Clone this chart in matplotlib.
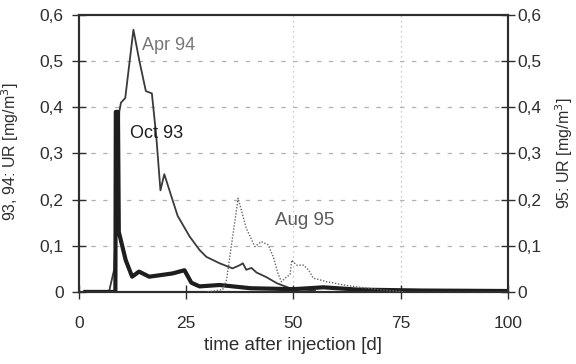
import matplotlib
matplotlib.use("Agg")
import matplotlib.pyplot as plt
from matplotlib.ticker import FixedLocator, FuncFormatter

plt.rcParams['font.family'] = ['Liberation Sans', 'DejaVu Sans']

# Oct 93 (thick line, left axis)
oct93_t = [1.5, 8.5, 8.6, 9.1, 9.3, 10.9, 12.4, 14.0, 16.4, 21.8, 24.6, 26.2, 28.1,
           32.8, 40.0, 50.0, 57.0, 65.0, 80.0, 100.0]
oct93_v = [0.0, 0.0, 0.39, 0.39, 0.13, 0.069, 0.033, 0.044, 0.033, 0.040, 0.047, 0.020, 0.012,
           0.015, 0.008, 0.006, 0.010, 0.005, 0.003, 0.002]

# Apr 94 (thin line, left axis)
apr94_t = [1.5, 7.0, 8.2, 8.9, 9.4, 9.8, 10.8, 12.7, 14.1, 15.6, 17.0, 18.0, 19.0, 19.9,
           21.1, 23.0, 25.8, 28.1, 29.7, 32.8, 34.7, 35.8, 37.5, 38.2, 39.0, 40.2, 41.4,
           43.7, 46.1, 49.2, 55.0]
apr94_v = [0.0, 0.0, 0.048, 0.20, 0.39, 0.41, 0.42, 0.568, 0.50, 0.435, 0.43, 0.34, 0.22, 0.255,
           0.22, 0.165, 0.12, 0.091, 0.076, 0.062, 0.055, 0.051, 0.058, 0.062, 0.048, 0.052, 0.042,
           0.032, 0.019, 0.008, 0.003]

# Aug 95 (dotted line, right axis)
aug95_t = [30.0, 33.5, 34.4, 37.1, 39.0, 41.0, 42.5, 44.1, 45.3, 46.4, 47.2, 48.4, 49.2, 49.6,
           50.7, 52.3, 53.5, 54.6, 57.8, 61.7, 65.6, 70.0, 76.0]
aug95_v = [0.0, 0.005, 0.026, 0.203, 0.138, 0.098, 0.109, 0.102, 0.076, 0.040, 0.022, 0.033,
           0.037, 0.069, 0.058, 0.058, 0.048, 0.030, 0.022, 0.015, 0.010, 0.005, 0.0]

y_ticks = [0.0, 0.1, 0.2, 0.3, 0.4, 0.5, 0.6]
x_ticks = [0, 25, 50, 75, 100]

ink = '#2e2e2e'
fig = plt.figure(figsize=(5.76, 3.64), dpi=100)
ax = fig.add_axes([0.137, 0.198, 0.745, 0.761])
ax2 = ax.twinx()

ax.set_xlim(0, 100)
ax.set_ylim(0, 0.6)
ax2.set_ylim(0, 0.6)

# grid
for y in y_ticks[1:-1]:
    ax.axhline(y, color='#b0b0b0', lw=0.9, ls=(0, (3.5, 6)), zorder=0)
for x in [50, 75]:
    ax.axvline(x, color='#b8b8b8', lw=0.9, ls=(0, (1, 3)), zorder=0)

ax.plot(apr94_t, apr94_v, color='#3a3a3a', lw=1.3, zorder=3)
ax.plot(oct93_t, oct93_v, color='#1e1e1e', lw=3.0, zorder=4, solid_joinstyle='round')
ax2.plot(aug95_t, aug95_v, color='#666666', lw=1.0, ls=(0, (1, 1.2)), zorder=3)

ax.text(14.8, 0.533, 'Apr 94', fontsize=13, color='#777777', va='center', ha='left')
ax.text(11.9, 0.344, 'Oct 93', fontsize=13, color='#1e1e1e', va='center', ha='left')
ax.text(45.6, 0.154, 'Aug 95', fontsize=13.5, color='#5a5a5a', va='center', ha='left')

fmt = FuncFormatter(lambda v, p: '0' if abs(v) < 1e-9 else f'{v:.1f}'.replace('.', ','))
for a in (ax, ax2):
    a.yaxis.set_major_locator(FixedLocator(y_ticks))
    a.yaxis.set_major_formatter(fmt)
    for s in a.spines.values():
        s.set_color(ink)
        s.set_linewidth(1.5)
ax.xaxis.set_major_locator(FixedLocator(x_ticks))
ax.tick_params(axis='both', direction='inout', length=10, width=1.0, color=ink,
               labelsize=12.5, labelcolor=ink)
ax.tick_params(axis='y', pad=6)
ax.tick_params(axis='x', pad=12)
ax2.tick_params(axis='y', direction='inout', length=10, width=1.0, color=ink,
                labelsize=12.5, labelcolor=ink, pad=2)

ax.set_xlabel('time after injection [d]', fontsize=13.5, color=ink, labelpad=5)
ax.set_ylabel('93, 94: UR [mg/m$^3$]', fontsize=11.5, color=ink)
ax2.set_ylabel('95: UR [mg/m$^3$]', fontsize=11.5, color=ink)
ax.yaxis.set_label_coords(-0.136, 0.505)
ax2.yaxis.set_label_coords(1.106, 0.5)

fig.savefig('out.png', dpi=100, facecolor='white')
